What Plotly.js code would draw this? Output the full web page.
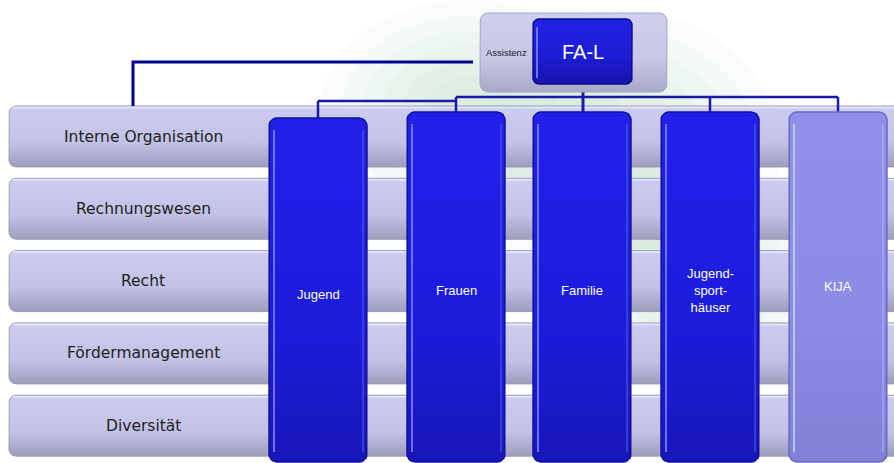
<!DOCTYPE html>
<html>
<head>
<meta charset="utf-8">
<script src="https://cdn.plot.ly/plotly-3.0.1.min.js"></script>
<style>html,body{margin:0;padding:0;background:#fff;}#chart{width:894px;height:463px;}</style>
</head>
<body>
<div id="chart"></div>
<script>
// ---- data ----
const staffUnits = ["Interne Organisation", "Rechnungswesen", "Recht", "Fördermanagement", "Diversität"];
const departments = ["Jugend", "Frauen", "Familie", "Jugend-<br>sport-<br>häuser", "KIJA"];
const departmentKinds = ["dark", "dark", "dark", "dark", "light"];
const leaderLabel = "FA-L";
const assistantLabel = "Assistenz";

// ---- layout constants (positions / styles) ----
const W = 894, H = 463;
const staffLeft = 9, staffRight = 905, staffTop0 = 106, staffStep = 72.3, staffH = 61;
const colLefts = [269, 407, 533, 661, 789], colW = 98, colBottom = 462;
const colTops = [118, 112, 112, 112, 112];
const asst = {x0: 480, x1: 667, y0: 13, y1: 92};
const lead = {x0: 533, x1: 632, y0: 19, y1: 84};
const lineColor = "#1a1aa6";

function roundRect(x0, y0, x1, y1, r) {
  const xs = [], ys = [];
  const corners = [
    [x1 - r, y0 + r, -Math.PI / 2, 0],
    [x1 - r, y1 - r, 0, Math.PI / 2],
    [x0 + r, y1 - r, Math.PI / 2, Math.PI],
    [x0 + r, y0 + r, Math.PI, 1.5 * Math.PI]
  ];
  corners.forEach(([cx, cy, a0, a1]) => {
    for (let k = 0; k <= 6; k++) {
      const a = a0 + (a1 - a0) * k / 6;
      xs.push(cx + r * Math.cos(a));
      ys.push(cy + r * Math.sin(a));
    }
  });
  xs.push(xs[0]); ys.push(ys[0]);
  return {xs, ys};
}

const traces = [];
function box(x0, y0, x1, y1, r, fill, line, lw, grad) {
  const p = roundRect(x0, y0, x1, y1, r);
  const t = {
    type: "scatter", mode: "lines", x: p.xs, y: p.ys, fill: "toself",
    fillcolor: fill, line: {color: line, width: lw}, hoverinfo: "skip", showlegend: false
  };
  if (grad) t.fillgradient = grad;
  traces.push(t);
}
function seg(xs, ys, color, w) {
  traces.push({type: "scatter", mode: "lines", x: xs, y: ys, line: {color: color, width: w},
    hoverinfo: "skip", showlegend: false});
}

const annotations = [];

// staff bars (colorscale 0 = bottom, 1 = top on screen)
staffUnits.forEach((name, i) => {
  const y0 = staffTop0 + i * staffStep, y1 = y0 + staffH;
  box(staffLeft, y0, staffRight, y1, 7, "#c3c3e6", "rgba(150,150,185,0.9)", 1,
    {type: "vertical", colorscale: [[0, "#9d9dbd"], [0.4, "#c2c2e6"], [1, "#cdcdf1"]]});
  seg([staffLeft + 4, staffRight], [y0 + 1.5, y0 + 1.5], "rgba(235,235,255,0.9)", 1.5);
  annotations.push({x: 143, y: (y0 + y1) / 2, text: name, showarrow: false,
    font: {family: "DejaVu Sans", size: 15.5, color: "#222222"}, xanchor: "center", yanchor: "middle"});
});

// connectors from assistant to staff
seg([473, 133, 133], [62, 62, staffTop0], "#00008f", 3);

// connectors from leader to departments
const colCenters = colLefts.map(l => l + colW / 2);
seg([583, 583], [lead.y1, colTops[2]], lineColor, 3);
seg([colCenters[1], colCenters[4]], [97, 97], lineColor, 2.5);
[1, 3, 4].forEach(i => seg([colCenters[i], colCenters[i]], [97, colTops[i]], lineColor, 2.5));
seg([colCenters[0], colCenters[1]], [101, 101], lineColor, 2.5);
seg([colCenters[0], colCenters[0]], [101, colTops[0]], lineColor, 2.5);

// department columns
departments.forEach((name, i) => {
  const x0 = colLefts[i], x1 = x0 + colW, y0 = colTops[i], y1 = colBottom;
  const dark = departmentKinds[i] === "dark";
  if (dark) {
    box(x0, y0, x1, y1, 8, "#1c1cdc", "#10109a", 1.5,
      {type: "vertical", colorscale: [[0, "#1717b8"], [0.4, "#1c1cdc"], [1, "#2020ea"]]});
    seg([x0 + 5, x0 + 5], [y0 + 12, y1 - 10], "rgba(120,120,255,0.9)", 2);
    seg([x1 - 4, x1 - 4], [y0 + 12, y1 - 10], "rgba(90,90,240,0.7)", 1.5);
  } else {
    box(x0, y0, x1, y1, 8, "#8c8ce8", "#6a6ac4", 1.5,
      {type: "vertical", colorscale: [[0, "#8080d6"], [0.4, "#8b8be6"], [1, "#9090ea"]]});
    seg([x0 + 5, x0 + 5], [y0 + 12, y1 - 10], "rgba(200,200,255,0.9)", 2);
    seg([x1 - 4, x1 - 4], [y0 + 12, y1 - 10], "rgba(180,180,250,0.7)", 1.5);
  }
  const yLab = i === 0 ? 294 : (i === 4 ? 286 : 290);
  annotations.push({x: (x0 + x1) / 2, y: yLab, text: name, showarrow: false,
    font: {family: "Liberation Sans", size: 13, color: "#ffffff"}, xanchor: "center", yanchor: "middle"});
});

// assistant + leader boxes
box(asst.x0, asst.y0, asst.x1, asst.y1, 8, "#c8c8e8", "rgba(160,160,195,0.9)", 1,
  {type: "vertical", colorscale: [[0, "#a8a8c8"], [0.4, "#c5c5e6"], [1, "#cfcff0"]]});
annotations.push({x: (asst.x0 + lead.x0) / 2, y: 52, text: assistantLabel, showarrow: false,
  font: {family: "Liberation Sans", size: 9.5, color: "#222222"}, xanchor: "center", yanchor: "middle"});
box(lead.x0, lead.y0, lead.x1, lead.y1, 6, "#1c1cd2", "#0c0c8a", 1.5,
  {type: "vertical", colorscale: [[0, "#1414a8"], [0.4, "#1c1cd2"], [1, "#2222e4"]]});
seg([lead.x0 + 4, lead.x0 + 4], [lead.y0 + 8, lead.y1 - 6], "rgba(120,120,255,0.9)", 2);
annotations.push({x: (lead.x0 + lead.x1) / 2, y: 52, text: leaderLabel, showarrow: false,
  font: {family: "Liberation Sans", size: 20, color: "#ffffff"}, xanchor: "center", yanchor: "middle"});

// faint, soft green watermark behind everything (stacked translucent ellipses)
const shapes = [];
const blobs = [[470, 110, 150, 110], [620, 150, 160, 140], [690, 270, 130, 110]];
blobs.forEach(([cx, cy, rx, ry]) => {
  for (let k = 0; k < 6; k++) {
    const f = 1 - k * 0.14;
    shapes.push({type: "circle", xref: "x", yref: "y", x0: cx - rx * f, x1: cx + rx * f,
      y0: cy - ry * f, y1: cy + ry * f, layer: "below",
      fillcolor: "rgba(175,210,180,0.07)", line: {width: 0}});
  }
});

const layout = {
  width: W, height: H, margin: {l: 0, r: 0, t: 0, b: 0},
  paper_bgcolor: "#ffffff", plot_bgcolor: "#ffffff",
  xaxis: {range: [0, W], visible: false, fixedrange: true},
  yaxis: {range: [H, 0], visible: false, fixedrange: true},
  showlegend: false, annotations: annotations, shapes: shapes, hovermode: false
};

Plotly.newPlot("chart", traces, layout, {displayModeBar: false, staticPlot: true});
</script>
</body>
</html>
